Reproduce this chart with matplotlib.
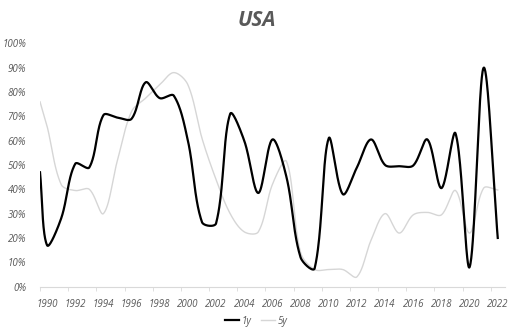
import numpy as np
import matplotlib.pyplot as plt

plt.rcParams['font.family'] = ['Open Sans', 'DejaVu Sans']

# data (share, in %)
years = [1989.5] + list(range(1990, 2023))
y1 = [47, 17, 28, 50.5, 49, 70.5, 69.5, 69, 84, 77.5, 78.5, 60, 26.5, 26, 71, 60, 38.5,
      60.5, 45, 12, 7.5, 61, 38, 49, 60.5, 50, 49.5, 49.8, 60.5, 40.5, 63, 8, 90, 20]
y5 = [76, 66, 42, 39.5, 40, 30, 52, 72, 77.5, 83, 88, 83, 61, 44, 30, 22.5, 22.5,
      42, 51.5, 14, 7, 7, 7, 4, 19, 30, 22, 29.5, 30.5, 29.5, 39.5, 22, 40.5, 39.7]
xlabels = [str(y) for y in range(1990, 2023, 2)]

# approx pixels per year / per percent, used to shape the smoothing
SX, SY = 14.07, 2.433


def smooth(x, y, n=40):
    # Excel-like smoothed line: bezier through each point,
    # handle length scaled by the neighbouring segment lengths
    p = np.column_stack([np.array(x) * SX, np.array(y) * SY]).astype(float)
    m = len(p)
    fwd, back = [], []
    for i in range(m):
        a = p[max(i - 1, 0)]
        c = p[min(i + 1, m - 1)]
        d = c - a
        l0 = np.linalg.norm(p[i] - a)
        l1 = np.linalg.norm(c - p[i])
        tot = l0 + l1 if l0 + l1 > 0 else 1
        fwd.append(p[i] + d * l1 / tot / 3)
        back.append(p[i] - d * l0 / tot / 3)
    out = []
    t = np.linspace(0, 1, n)[:, None]
    for i in range(m - 1):
        a, b = p[i], p[i + 1]
        c1, c2 = fwd[i], back[i + 1]
        seg = (1 - t) ** 3 * a + 3 * (1 - t) ** 2 * t * c1 + 3 * (1 - t) * t ** 2 * c2 + t ** 3 * b
        out.append(seg if i == 0 else seg[1:])
    s = np.vstack(out)
    return s[:, 0] / SX, s[:, 1] / SY


fig = plt.figure(figsize=(5.13, 3.34), dpi=100)
ax = fig.add_axes([0.078, 0.142, 0.906, 0.728])

sx, sy = smooth(years, y5)
ax.plot(sx, sy, color='#d6d6d6', lw=1.0, label='5y')
bx, by = smooth(years, y1)
ax.plot(bx, by, color='black', lw=1.6, label='1y', zorder=3)

ax.set_xlim(1989.5, 2022.5)
ax.set_ylim(0, 100)
ax.set_yticks(range(0, 101, 10))
ax.set_yticklabels([f'{v}%' for v in range(0, 101, 10)])
ax.set_xticks(range(1990, 2023, 2))
ax.set_xticklabels(xlabels)
ax.set_xticks(np.arange(1989.5, 2022, 2), minor=True)
ax.tick_params(axis='x', which='major', length=0, pad=9)
ax.tick_params(axis='x', which='minor', length=3, color='#d9d9d9')
ax.tick_params(axis='y', length=0, pad=10)
for lab in ax.get_xticklabels() + ax.get_yticklabels():
    lab.set_fontsize(7)
    lab.set_style('italic')
    lab.set_color('#595959')

for s in ['top', 'right', 'left']:
    ax.spines[s].set_visible(False)
ax.spines['bottom'].set_color('#d9d9d9')

fig.text(0.5, 0.94, 'USA', ha='center', va='center', fontsize=15,
         fontweight='bold', style='italic', color='#595959')

h, l = ax.get_legend_handles_labels()
leg = fig.legend(h[::-1], l[::-1], loc='center', bbox_to_anchor=(0.5, 0.038), ncol=2,
                 frameon=False, handlelength=1.4, handletextpad=0.3, columnspacing=1.0,
                 prop={'size': 7, 'style': 'italic'})
for t in leg.get_texts():
    t.set_color('#595959')

fig.savefig('out.png', dpi=100)
